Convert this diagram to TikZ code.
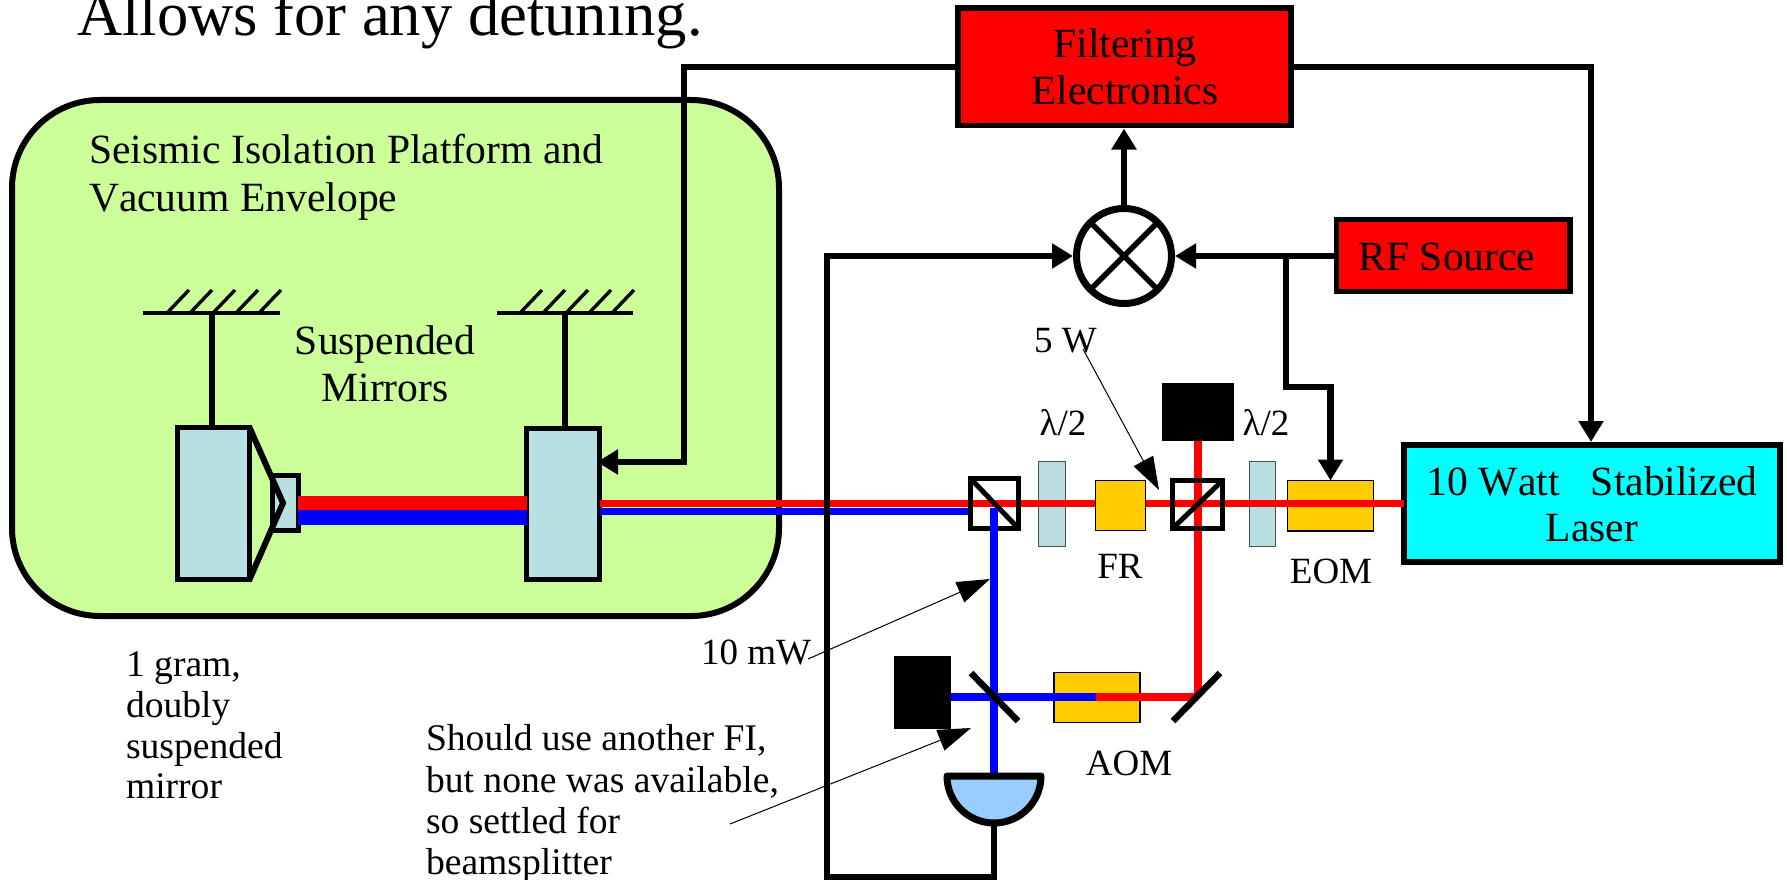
\documentclass[tikz,border=0pt]{standalone}
\usepackage{fontspec}
\setmainfont[Kerning=Off]{Liberation Serif}
\usetikzlibrary{arrows.meta,calc}
\definecolor{envgreen}{HTML}{CCFF99}
\definecolor{glass}{HTML}{B9DFE3}
\definecolor{amber}{HTML}{FFCC00}
\definecolor{detblue}{HTML}{99CCFF}
\definecolor{laserfill}{HTML}{00FFFF}
\definecolor{pure red}{HTML}{FF0000}
\definecolor{pure blue}{HTML}{0000FF}
\newcommand{\bx}[6]{\node[#2,minimum width={(#5-#3)*1pt},minimum height={(#6-#4)*1pt}] (#1) at ({(#3+#5)/2},{(#4+#6)/2}) {};}
\tikzset{
  x=1pt,y=-1pt,
  block/.style={draw=black,rectangle,inner sep=0pt,outer sep=0pt},
  envbox/.style={block,line width=6pt,fill=envgreen,rounded corners=88pt},
  mirrorbox/.style={block,line width=5pt,fill=glass},
  redbox/.style={block,line width=5.5pt,fill=pure red},
  laserbox/.style={block,line width=5.5pt,fill=laserfill},
  plate/.style={block,line width=1.6pt,draw=black!70,fill=glass},
  crystal/.style={block,line width=1.8pt,fill=amber},
  cube/.style={block,line width=5pt,fill=white},
  dump/.style={block,line width=0pt,fill=black,draw=none},
  wire/.style={line width=6.5pt,draw=black,line join=miter},
  sig/.style={wire,-{Triangle[width=24pt,length=21pt]}},
  note/.style={line width=1pt,draw=black,-{Triangle[width=22pt,length=33pt]}},
  beamthick/.style={line width=14.5pt},
  beamthin/.style={line width=7.5pt},
  txt/.style={inner sep=0pt,outer sep=0pt,text=black},
  big/.style={font=\fontsize{41.6}{41.6}\selectfont},
  small/.style={font=\fontsize{37}{37}\selectfont},
  para/.style={font=\fontsize{37.6}{37.6}\selectfont},
  huge/.style={font=\fontsize{62.6}{62.6}\selectfont},
  ground/.style={line width=3.4pt,draw=black},
  hang/.style={line width=5.5pt,draw=black},
  opt/.style={line width=6.5pt,draw=black},
}
\begin{document}
\begin{tikzpicture}
\useasboundingbox (0,0) rectangle (1787,880);
\path[fill=white] (0,0) rectangle (1787,880);
% envelope
\bx{env}{envbox}{12}{100}{779}{616}
% reference rows
\coordinate (rty) at (0,503);
\coordinate (bty) at (0,517.5);
\coordinate (ry) at (0,503.5);
\coordinate (by) at (0,511.5);
\coordinate (ax) at (994,0);
\coordinate (vx) at (1198,0);
\coordinate (hy) at (0,697);
% suspensions
\coordinate (g1l) at (143,313); \coordinate (g1r) at (280,313); \coordinate (g1c) at (212,313);
\coordinate (g2l) at (497,313); \coordinate (g2r) at (633,313); \coordinate (g2c) at (565,313);
\draw[ground] (g1l) -- (g1r);
\draw[ground] (g2l) -- (g2r);
\foreach \x in {167,190,213,236,259,520,543,566,589,612}
  \draw[ground] (\x,313) -- (\x+22,290);
% mirrors
\bx{mL}{mirrorbox}{177.5}{427.5}{249.5}{579.5}
\bx{mS}{mirrorbox}{272}{475.5}{298}{530.5}
\bx{mR}{mirrorbox}{526.5}{428}{599.5}{579.5}
\draw[hang] (g1c) -- (g1c |- mL.north);
\draw[hang] (g2c) -- (g2c |- mR.north);
\draw[line width=6pt,line join=miter] (mL.north east) -- (283,503) -- (mL.south east);
% beams on the far side
\draw[pure red,beamthick] (mS.east |- rty) -- (mR.west |- rty);
\draw[pure blue,beamthick] (mS.east |- bty) -- (mR.west |- bty);
\draw[pure red,beamthin] (mR.east |- ry) -- (968,503.5);
\draw[pure blue,beamthin] (mR.east |- by) -- (ax |- by);
% optics on the table
\bx{wp1}{plate}{1038.5}{461.5}{1065.5}{546.5}
\bx{wp2}{plate}{1249.5}{461.5}{1275.5}{546.5}
\bx{eom}{crystal}{1287.5}{480.5}{1373.5}{531}
\bx{laser}{laserbox}{1404}{445}{1780}{562}
\bx{cb1}{cube}{970.5}{478.5}{1018.5}{528.5}
\bx{cb2}{cube}{1172.5}{480.5}{1222.5}{528.5}
\bx{dumpT}{dump}{1162}{383}{1234}{441}
\bx{dumpL}{dump}{894}{656}{951}{729}
\bx{aom}{crystal}{1054}{672.5}{1140}{722.5}
\draw[pure red,beamthin] (cb1.west |- ry) -- (laser.west |- ry);
\draw[pure red,beamthin] (vx |- dumpT.south) -- (vx |- hy);
\bx{fr}{crystal}{1095.5}{480.5}{1145.5}{530.5}
\draw[draw=black,line width=5pt] (cb1.north west) rectangle (cb1.south east);
\draw[draw=black,line width=5pt] (cb2.north west) rectangle (cb2.south east);
\draw[line width=5pt] (cb1.north west) -- (cb1.south east);
\draw[line width=5pt] (cb2.south west) -- (cb2.north east);
\draw[pure blue,beamthin] (994,508) -- (994,773);
\draw[pure blue,beamthin] (dumpL.east |- hy) -- (1096,697);
\draw[pure red,beamthin] (1096,697) -- (vx |- hy);
\coordinate (bsA) at (971,673); \coordinate (bsB) at (1018,721);
\coordinate (fmA) at (1220,673); \coordinate (fmB) at (1173,721);
\draw[opt] (bsA) -- (bsB);
\draw[opt] (fmA) -- (fmB);
% detector
\coordinate (detL) at (947,776); \coordinate (detR) at (1041,776); \coordinate (detB) at (994,823);
\draw[line width=7pt,fill=detblue,line join=round] (detL) .. controls (947,802) and (968,823) .. (detB) .. controls (1020,823) and (1041,802) .. (detR) -- cycle;
% electronics
\bx{filter}{redbox}{958}{8}{1291}{125.5}
\bx{rf}{redbox}{1336.5}{219.5}{1570}{291.5}
\node[draw=black,circle,line width=7pt,fill=white,minimum size=95pt,inner sep=0pt,outer sep=0pt] (mix) at (1124,256) {};
\draw[line width=5.5pt] (mix.45) -- (mix.225);
\draw[line width=5.5pt] (mix.135) -- (mix.315);
\coordinate (fbc) at (684,67);
\coordinate (fbe) at (684,462);
\coordinate (fbt) at (597,462);
\coordinate (tap) at (1286,256);
\coordinate (tapb) at (1286,387);
\coordinate (lasc) at (1591,67);
\coordinate (wb) at (827,877);
\draw[sig] ($(mix.north)+(0,-3.5)$) -- ($(mix.north |- filter.south)+(0,3)$);
\draw[sig] (filter.west |- fbc) -- (fbc) -- (fbe) -- (fbt);
\draw[sig] (filter.east |- fbc) -- (lasc) -- ($(lasc |- laser.north)+(0,-3)$);
\draw[sig] (rf.west |- tap) -- ($(mix.east)+(3.5,0)$);
\draw[sig] (tap) -- (tapb) -| (eom.north);
\draw[sig] (detB) -- (detB |- wb) -- (wb) -- (wb |- mix) -- ($(mix.west)+(-3.5,0)$);
% annotations
\coordinate (n5) at (1083,349); \coordinate (n5t) at (1159,490);
\coordinate (n10) at (808,659); \coordinate (n10t) at (990,579);
\coordinate (nfi) at (730,824); \coordinate (nfit) at (971,728);
\draw[note] (n5) -- (n5t);
\draw[note] (n10) -- (n10t);
\draw[note] (nfi) -- (nfit);
% texts
\node[txt,huge,anchor=base west] (ttitle) at (77,36) {Allows for any detuning.};
\node[txt,big,anchor=base west] (tseis1) at (89,163) {Seismic Isolation Platform and};
\node[txt,big,anchor=base west] (tseis2) at (89,211) {Vacuum Envelope};
\node[txt,big,anchor=base] (tsus1) at (385,354) {Suspended};
\node[txt,big,anchor=base] (tsus2) at (385,401) {Mirrors};
\node[txt,big,anchor=base] (tfil1) at (1125,58) {Filtering};
\node[txt,big,anchor=base] (tfil2) at (1125,105) {Electronics};
\node[txt,big,anchor=base] (trf) at (1447,270) {RF Source};
\node[txt,big,anchor=base] (tlas1) at (1592,495) {10 Watt\ \ \ Stabilized};
\node[txt,big,anchor=base] (tlas2) at (1592,541) {Laser};
\node[txt,small,anchor=base] (tl1) at (1063,435) {λ/2};
\node[txt,small,anchor=base] (tl2) at (1266,435) {λ/2};
\node[txt,small,anchor=base] (tfr) at (1120,578) {FR};
\node[txt,small,anchor=base] (teom) at (1331,583) {EOM};
\node[txt,small,anchor=base] (taom) at (1129,775) {AOM};
\node[txt,small,anchor=base west] (t5w) at (1034,352) {5 W};
\node[txt,small,anchor=base west] (t10) at (701,664) {10 mW};
\node[txt,para,anchor=base west] (tg1) at (126,676) {1 gram,};
\node[txt,para,anchor=base west] (tg2) at (126,717) {doubly};
\node[txt,para,anchor=base west] (tg3) at (126,758) {suspended};
\node[txt,para,anchor=base west] (tg4) at (126,798) {mirror};
\node[txt,para,anchor=base west] (ts1) at (426,750) {Should use another FI,};
\node[txt,para,anchor=base west] (ts2) at (426,792) {but none was available,};
\node[txt,para,anchor=base west] (ts3) at (426,833) {so settled for};
\node[txt,para,anchor=base west] (ts4) at (426,874) {beamsplitter};
\end{tikzpicture}
\end{document}
